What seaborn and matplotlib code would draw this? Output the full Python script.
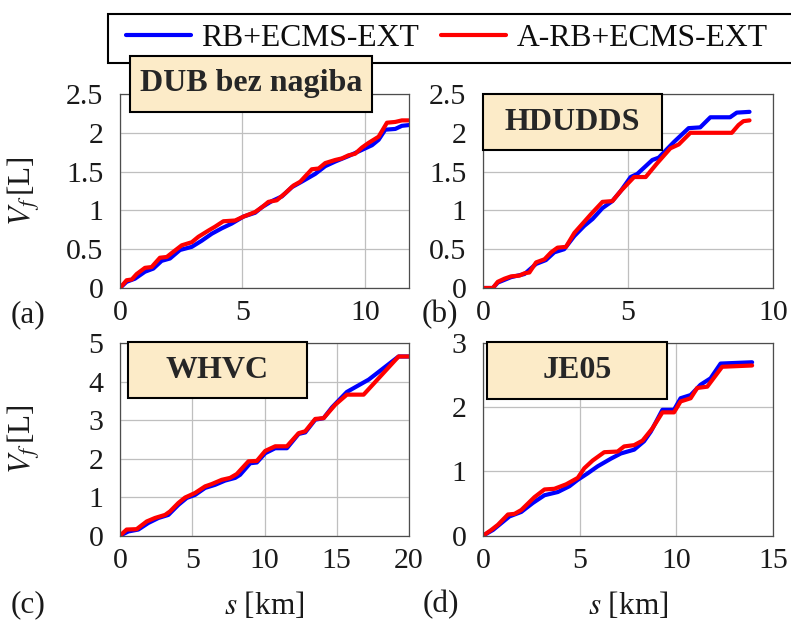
import matplotlib
matplotlib.use('Agg')
import matplotlib.pyplot as plt
from matplotlib.patches import Rectangle
from matplotlib.lines import Line2D
from matplotlib.ticker import FuncFormatter, MultipleLocator
import pandas as pd
import seaborn as sns

# fuel volume V_f [L] over distance s [km]
# (a) DUB bez nagiba
dub_s_rb = [0, 0.27, 0.61, 1.02, 1.36, 1.70, 2.04, 2.45, 2.93, 3.34, 3.75, 4.16, 4.56, 5.04, 5.52,
            5.79, 6.20, 6.61, 7.02, 7.42, 7.97, 8.38, 8.79, 9.33, 9.88, 10.29, 10.56, 10.83, 11.24, 11.51, 11.81]
dub_v_rb = [0, 0.08, 0.12, 0.21, 0.25, 0.35, 0.38, 0.49, 0.53, 0.61, 0.70, 0.77, 0.83, 0.92, 0.97,
            1.04, 1.12, 1.18, 1.30, 1.37, 1.47, 1.57, 1.63, 1.70, 1.78, 1.84, 1.91, 2.04, 2.05, 2.09, 2.10]
dub_s_arb = [0, 0.27, 0.48, 0.68, 1.02, 1.29, 1.63, 1.91, 2.11, 2.52, 2.93, 3.20, 3.61, 3.88, 4.22, 4.70,
             5.04, 5.52, 5.79, 6.06, 6.40, 6.74, 7.08, 7.36, 7.83, 8.11, 8.38, 8.79, 9.06, 9.33, 9.60,
             9.88, 10.15, 10.56, 10.90, 11.24, 11.51, 11.81]
dub_v_arb = [0, 0.10, 0.11, 0.18, 0.26, 0.27, 0.39, 0.40, 0.45, 0.55, 0.59, 0.66, 0.74, 0.79, 0.86, 0.87,
             0.92, 0.98, 1.04, 1.11, 1.13, 1.22, 1.32, 1.37, 1.53, 1.54, 1.61, 1.65, 1.67, 1.71, 1.73,
             1.81, 1.87, 1.95, 2.13, 2.14, 2.16, 2.16]

# (b) HDUDDS
hd_s_rb = [0, 0.34, 0.51, 0.97, 1.43, 1.83, 2.17, 2.46, 2.80, 3.15, 3.49, 3.78, 4.12, 4.46, 4.75,
           5.09, 5.32, 5.84, 6.06, 6.58, 7.09, 7.49, 7.84, 8.52, 8.75, 9.19]
hd_v_rb = [0, 0, 0.07, 0.14, 0.18, 0.31, 0.36, 0.46, 0.50, 0.67, 0.80, 0.89, 1.03, 1.12, 1.25,
           1.43, 1.47, 1.65, 1.68, 1.88, 2.06, 2.07, 2.20, 2.20, 2.26, 2.27]
hd_s_arb = [0, 0.34, 0.51, 0.74, 0.97, 1.26, 1.43, 1.60, 1.83, 2.12, 2.35, 2.57, 2.86, 3.15, 3.72,
            4.12, 4.46, 4.75, 5.21, 5.61, 6.01, 6.46, 6.75, 7.15, 8.58, 8.81, 8.98, 9.19]
hd_v_arb = [0, 0, 0.08, 0.12, 0.15, 0.16, 0.19, 0.20, 0.33, 0.37, 0.46, 0.52, 0.53, 0.71, 0.95,
            1.11, 1.12, 1.25, 1.43, 1.43, 1.61, 1.80, 1.85, 2.00, 2.00, 2.10, 2.15, 2.16]

# (c) WHVC
wh_s_rb = [0, 0.58, 1.27, 1.96, 2.66, 3.35, 4.04, 4.62, 5.20, 5.89, 6.58, 7.27, 7.97, 8.31, 9.01,
           9.47, 10.05, 10.74, 11.55, 12.36, 12.82, 13.51, 14.09, 14.67, 15.70, 17.21, 19.28, 20.0]
wh_v_rb = [0, 0.11, 0.16, 0.33, 0.46, 0.54, 0.80, 0.98, 1.06, 1.24, 1.32, 1.43, 1.50, 1.58, 1.88,
           1.90, 2.14, 2.27, 2.27, 2.64, 2.68, 3.01, 3.05, 3.33, 3.73, 4.05, 4.65, 4.65]
wh_s_arb = [0, 0.46, 1.15, 1.85, 2.42, 3.12, 3.46, 4.04, 4.50, 5.20, 5.89, 6.35, 7.04, 7.62, 8.08,
            8.89, 9.47, 10.05, 10.74, 11.55, 12.36, 12.82, 13.51, 14.09, 14.90, 15.70, 16.86, 19.28, 20.0]
wh_v_arb = [0, 0.16, 0.17, 0.37, 0.46, 0.54, 0.63, 0.85, 0.99, 1.11, 1.28, 1.34, 1.45, 1.50, 1.60,
            1.93, 1.94, 2.20, 2.32, 2.32, 2.66, 2.71, 3.03, 3.05, 3.40, 3.66, 3.66, 4.65, 4.65]

# (d) JE05
je_s_rb = [0, 0.52, 1.37, 1.98, 2.58, 3.18, 3.87, 4.47, 4.90, 5.41, 5.93, 6.62, 7.13, 7.82, 8.33,
           8.68, 9.28, 9.88, 10.22, 10.74, 11.25, 11.77, 12.29, 13.92]
je_v_rb = [0, 0.09, 0.30, 0.37, 0.51, 0.63, 0.68, 0.77, 0.87, 0.97, 1.08, 1.20, 1.28, 1.34, 1.47,
           1.62, 1.96, 1.96, 2.14, 2.19, 2.35, 2.45, 2.68, 2.70]
je_s_arb = [0, 0.43, 0.77, 1.29, 1.63, 1.98, 2.66, 3.18, 3.69, 4.30, 4.90, 5.24, 5.67, 6.27, 6.96,
            7.30, 7.82, 8.25, 8.76, 9.28, 9.88, 10.22, 10.74, 11.08, 11.60, 12.37, 13.92]
je_v_arb = [0, 0.09, 0.17, 0.33, 0.34, 0.40, 0.60, 0.72, 0.73, 0.80, 0.90, 1.05, 1.17, 1.30, 1.31,
            1.39, 1.41, 1.48, 1.67, 1.92, 1.92, 2.09, 2.14, 2.30, 2.32, 2.63, 2.65]

cycle_names = ['DUB bez nagiba', 'HDUDDS', 'WHVC', 'JE05']
panel_tags = ['(a)', '(b)', '(c)', '(d)']
series_labels = ['RB+ECMS-EXT', 'A-RB+ECMS-EXT']

W, H = 791, 623

def fx(x):
    return x / W

def fy(y):
    return 1 - y / H

sns.set_style('whitegrid')
plt.rcParams['font.family'] = ['Liberation Serif', 'DejaVu Serif']
plt.rcParams['mathtext.fontset'] = 'stix'

fig = plt.figure(figsize=(W / 100, H / 100), dpi=100)

# axes boxes in pixels: left, top, right, bottom
boxes = [(120, 94, 409, 288), (483, 94, 773, 288),
         (120, 343, 409, 535.7), (483, 343, 773, 535.7)]
limits = [(11.8, 2.5, 0.5), (10, 2.5, 0.5), (20, 5, 1), (15, 3, 1)]
data = [(dub_s_rb, dub_v_rb, dub_s_arb, dub_v_arb),
        (hd_s_rb, hd_v_rb, hd_s_arb, hd_v_arb),
        (wh_s_rb, wh_v_rb, wh_s_arb, wh_v_arb),
        (je_s_rb, je_v_rb, je_s_arb, je_v_arb)]
# title box (left, top, right, bottom) in pixels
tboxes = [(130, 56, 372, 112), (483, 94, 662, 150),
          (128, 342, 307, 398), (487, 342, 667, 399)]
tags_xy = [(28, 315), (440, 315), (28, 605), (441, 605)]

for i in range(4):
    l, t, r, b = boxes[i]
    ax = fig.add_axes([fx(l), fy(b), (r - l) / W, (b - t) / H])
    s1, v1, s2, v2 = data[i]
    df1 = pd.DataFrame({'s': s1, 'V': v1})
    df2 = pd.DataFrame({'s': s2, 'V': v2})
    sns.lineplot(data=df1, x='s', y='V', color='#0000ff', linewidth=3, estimator=None, ax=ax)
    sns.lineplot(data=df2, x='s', y='V', color='#ff0000', linewidth=3, estimator=None, ax=ax)

    xmax, ymax, ystep = limits[i]
    ax.set_xlim(0, xmax)
    ax.set_ylim(0, ymax)
    ax.xaxis.set_major_locator(MultipleLocator(5))
    ax.yaxis.set_major_locator(MultipleLocator(ystep))
    ax.yaxis.set_major_formatter(FuncFormatter(lambda v, p: '%g' % v))
    ax.xaxis.set_major_formatter(FuncFormatter(lambda v, p: '%g' % v))
    ax.tick_params(axis='both', labelsize=21.5, labelcolor='0.1', direction='in', length=3, color='0.3')
    ax.tick_params(axis='y', pad=12)
    ax.tick_params(axis='x', pad=9)
    ax.grid(True, color='0.75', linewidth=0.9)
    for sp in ax.spines.values():
        sp.set_color('0.3')
        sp.set_linewidth(0.9)
    ax.set_xlabel('')
    ax.set_ylabel('')
    if i % 2 == 0:
        ax.set_ylabel(r'$V_f\,$[L]', fontsize=22.5, color='0.1')
        ax.yaxis.set_label_coords((43 - l) / (r - l), 0.5)
    if i >= 2:
        ax.set_xlabel(r'$s$ [km]', fontsize=22.5, color='0.1')
        ax.xaxis.set_label_coords(0.5, 1 - (605 - t) / (b - t))
        ax.xaxis.label.set_va('center')

    # cycle name box
    bl, bt, br, bb = tboxes[i]
    fig.add_artist(Rectangle((fx(bl), fy(bb)), (br - bl) / W, (bb - bt) / H,
                             transform=fig.transFigure, facecolor='#fcebc8',
                             edgecolor='black', linewidth=1.5, zorder=5))
    fig.text(fx((bl + br) / 2), fy((bt + bb) / 2), cycle_names[i], fontsize=23,
             fontweight='bold', ha='center', va='center', zorder=6)
    fig.text(fx(tags_xy[i][0]), fy(tags_xy[i][1]), panel_tags[i], fontsize=22.5,
             color='0.1', ha='center', va='center')

# legend frame runs off the right edge like in the original
fig.add_artist(Rectangle((fx(108), fy(63)), (800 - 108) / W, (63 - 14) / H,
                         transform=fig.transFigure, facecolor='white',
                         edgecolor='black', linewidth=1.5, zorder=4))
handles = [Line2D([], [], color='#0000ff', linewidth=3),
           Line2D([], [], color='#ff0000', linewidth=3)]
leg = fig.legend(handles, series_labels, loc='center left', bbox_to_anchor=(fx(126), fy(38)),
                 ncol=2, frameon=False, borderpad=0, borderaxespad=0, fontsize=22.8,
                 handlelength=2.05, handletextpad=0.33, columnspacing=0.7)
for txt in leg.get_texts():
    txt.set_color('0.05')
leg.set_zorder(7)

fig.savefig('out.png', dpi=100)
